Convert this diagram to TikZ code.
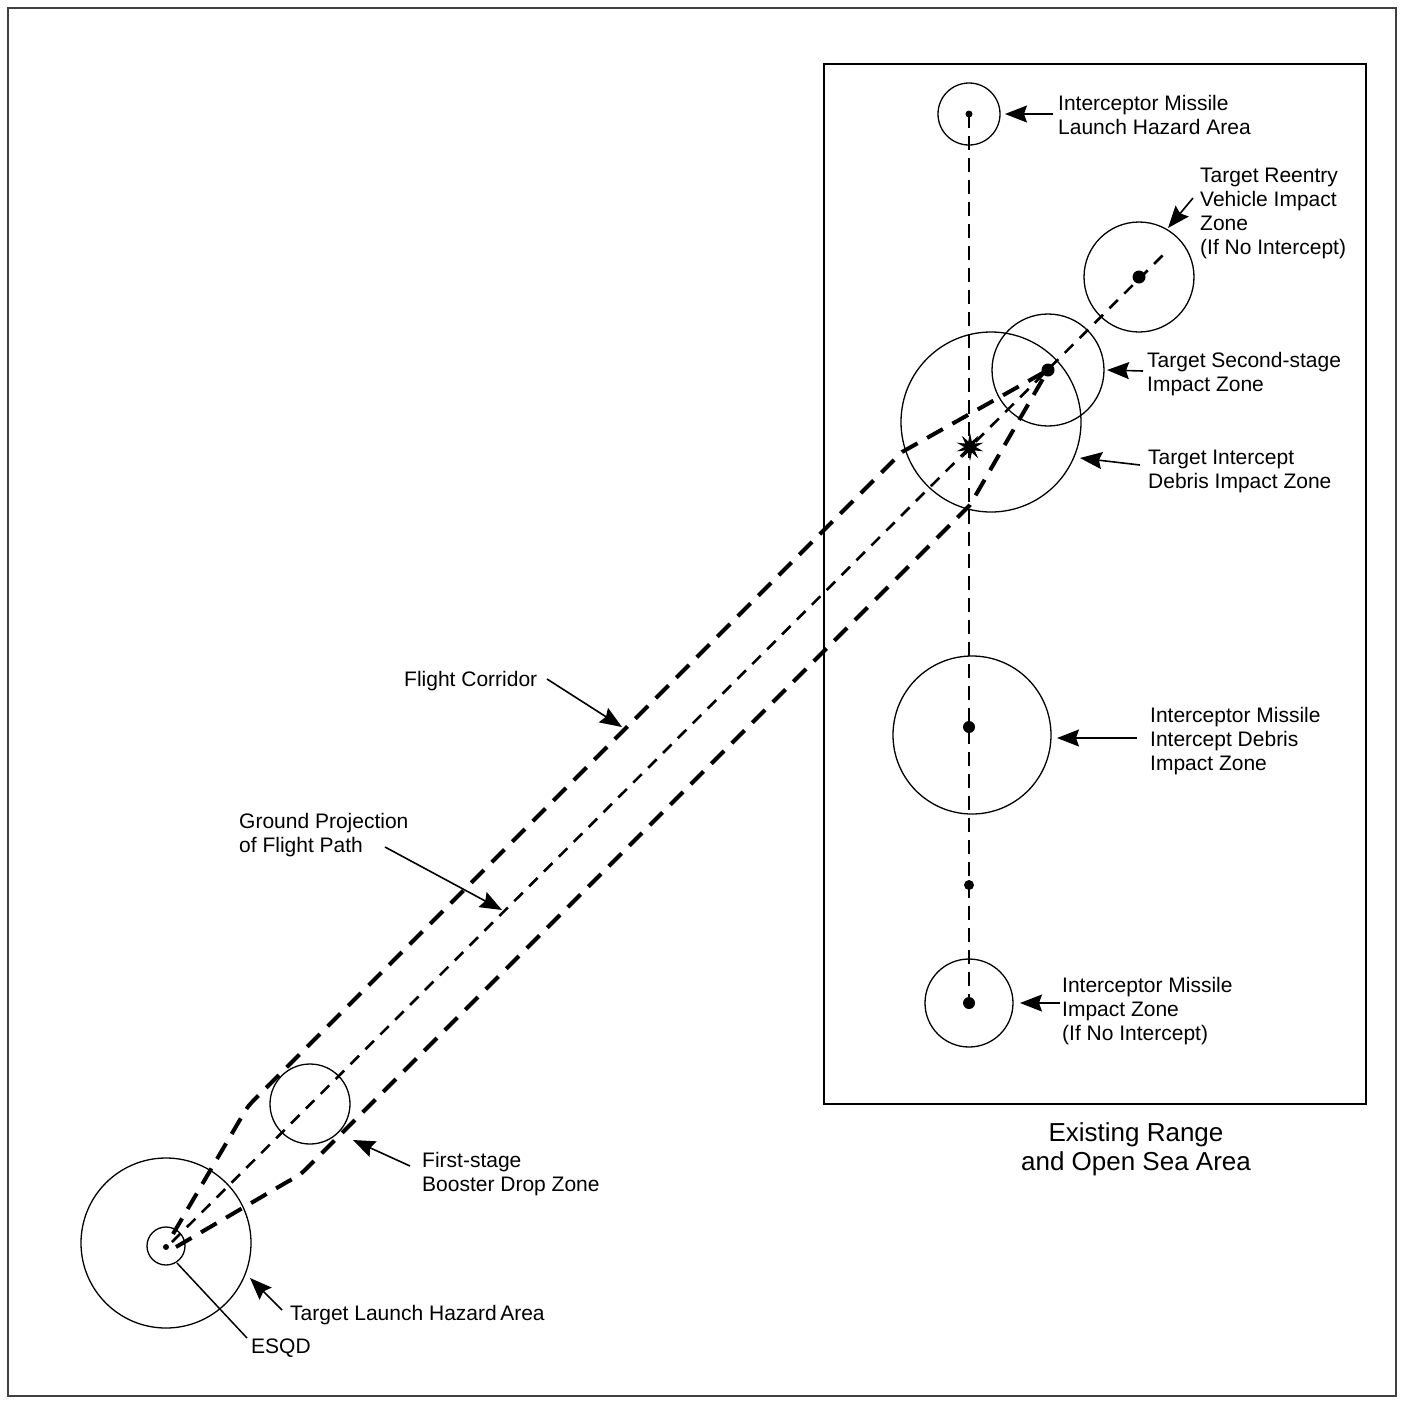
\documentclass[tikz,border=0pt]{standalone}
\usepackage{fontspec}
\setmainfont{Liberation Sans}
\usetikzlibrary{arrows.meta,shapes.geometric}
\begin{document}
\begin{tikzpicture}[x=1pt,y=-1pt,
  zone/.style={draw,circle,line width=1.3pt,inner sep=0pt,minimum size=#1},
  dotmark/.style={fill,circle,inner sep=0pt,minimum size=#1},
  corridor/.style={line width=4pt,dash pattern=on 18pt off 11pt},
  groundpath/.style={line width=2.6pt,dash pattern=on 12pt off 9pt},
  rangeline/.style={line width=2.2pt,dash pattern=on 14pt off 8pt},
  pointer/.style={line width=1.6pt,-{Stealth[length=22pt,width=17pt,inset=3pt]}},
  lbl/.style={anchor=north west,inner sep=0pt,align=left,font=\fontsize{21}{24}\selectfont},
]
\useasboundingbox (0,0) rectangle (1402,1403);
\draw[line width=1.3pt,black!75] (8,8) rectangle (1396,1396);
% range box
\draw[line width=1.5pt] (824,64) rectangle (1366,1104);

% zones
\node[zone=62pt]  (ila)  at (969,114) {};
\node[zone=110pt] (rvz)  at (1139,277) {};
\node[zone=112pt] (ssz)  at (1048,370) {};
\node[zone=180pt] (tdz)  at (991,422) {};
\node[zone=158pt] (idz)  at (972,735) {};
\node[zone=88pt]  (iiz)  at (969,1003) {};
\node[zone=170pt] (tla)  at (166,1243) {};
\node[zone=38pt]  (esq)  at (166,1246) {};
\node[zone=80pt]  (fsz)  at (310,1104) {};

% dots
\node[dotmark=7pt]  (iladot) at (969,114) {};
\node[dotmark=13pt] (rvdot)  at (1139,277) {};
\node[dotmark=13pt] (ssdot)  at (1048,370) {};
\node[dotmark=12pt] (iddot)  at (969,727) {};
\node[dotmark=10pt] (middot) at (969,885) {};
\node[dotmark=12pt] (iidot)  at (969,1003) {};
\node[dotmark=6pt]  (tldot)  at (166,1247) {};
\node[star,star points=10,star point ratio=2.4,fill,inner sep=0pt,minimum size=28pt] (burst) at (970,447) {};

% interceptor track
\draw[rangeline] (iladot.center) -- (iidot.center);

% flight corridor
\coordinate (cu0) at (173,1234);
\coordinate (cl0) at (176,1247);
\coordinate (gp0) at (172,1242);
\coordinate (gp1) at (1163,255);
\draw[corridor] (cu0) -- (241,1118) .. controls (248,1106) .. (257,1097) -- (902,452) -- (ssdot.center);
\draw[corridor] (cl0) -- (287,1182) .. controls (300,1175) .. (310,1165) -- (970,505) -- (ssdot.center);
\draw[groundpath] (gp0) -- (gp1);

% labels
\node[lbl] (t1) at (1058,94.7) {Interceptor Missile\\Launch Hazard Area};
\node[lbl] (t2) at (1200,167.7) {Target Reentry\\Vehicle Impact\\Zone\\(If No Intercept)};
\node[lbl] (t3) at (1147,351.7) {Target Second-stage\\Impact Zone};
\node[lbl] (t4) at (1148,449.7) {Target Intercept\\Debris Impact Zone};
\node[lbl] (t5) at (1150,706.7) {Interceptor Missile\\Intercept Debris\\Impact Zone};
\node[lbl] (t6) at (1062,976.7) {Interceptor Missile\\Impact Zone\\(If No Intercept)};
\node[lbl] (t7) at (404,670.7) {Flight Corridor};
\node[lbl] (t8) at (239,812.7) {Ground Projection\\of Flight Path};
\node[lbl] (t9) at (422,1151.7) {First-stage\\Booster Drop Zone};
\node[lbl] (t10) at (290,1304.7) {Target Launch Hazard\,Area};
\node[lbl] (t11) at (251,1338.7) {ESQD};
\node[anchor=north,inner sep=0pt,align=center,font=\fontsize{26}{29}\selectfont] (t12) at (1136,1122) {Existing Range\\and Open Sea Area};

% pointers
\coordinate (a1s) at (1053,114);  \coordinate (a1e) at (1005,114);
\coordinate (a2s) at (1193,198);  \coordinate (a2e) at (1168,228);
\coordinate (a3s) at (1143,371);  \coordinate (a3e) at (1107,370);
\coordinate (a4s) at (1140,465);  \coordinate (a4e) at (1080,458);
\coordinate (a5s) at (1137,738);  \coordinate (a5e) at (1057,738);
\coordinate (a6s) at (1060,1003); \coordinate (a6e) at (1020,1003);
\coordinate (a7s) at (547,679);   \coordinate (a7e) at (622,727);
\coordinate (a8s) at (385,847);   \coordinate (a8e) at (502,910);
\coordinate (a9s) at (410,1166);  \coordinate (a9e) at (353,1140);
\coordinate (a10s) at (282,1310); \coordinate (a10e) at (250,1278);
\coordinate (q1) at (177,1263);   \coordinate (q2) at (247,1338);
\foreach \i in {1,...,10} {\draw[pointer] (a\i s) -- (a\i e);}
\draw[line width=1.5pt] (q1) -- (q2);
\end{tikzpicture}
\end{document}
